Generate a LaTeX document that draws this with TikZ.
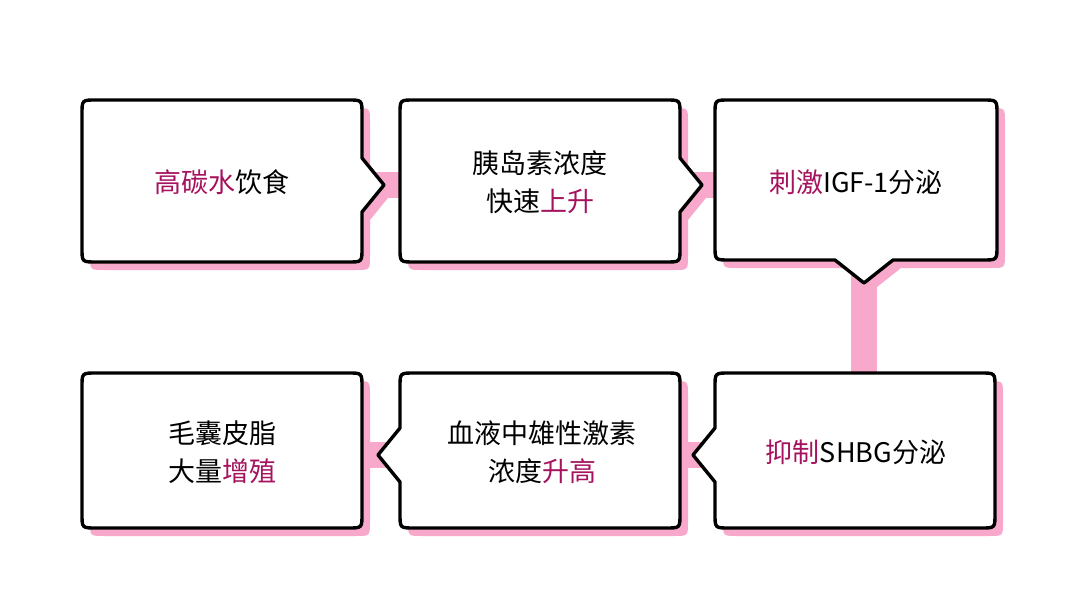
\documentclass[tikz,border=0pt]{standalone}
\usepackage{fontspec}
\setmainfont{Noto Sans CJK SC}
\definecolor{pk}{HTML}{F8A9CB}
\definecolor{mg}{HTML}{A5135E}
\newcommand\hl[1]{\textcolor{mg}{#1}}
% corner helpers (r = 14)
\newcommand\tr[2]{-- (#1-14,#2) .. controls (#1,#2) .. (#1,#2+14)}
\newcommand\br[2]{-- (#1,#2-14) .. controls (#1,#2) .. (#1-14,#2)}
\newcommand\bl[2]{-- (#1+14,#2) .. controls (#1,#2) .. (#1,#2-14)}
\newcommand\tl[2]{-- (#1,#2+14) .. controls (#1,#2) .. (#1+14,#2)}
\newcommand\bxR[5]{(#1+30,#2) \tr{#3}{#2} -- (#3,#5-27) -- (#3+22,#5) -- (#3,#5+27) \br{#3}{#4} \bl{#1}{#4} \tl{#1}{#2} -- cycle}
\newcommand\bxL[5]{(#1+30,#2) \tr{#3}{#2} \br{#3}{#4} \bl{#1}{#4} -- (#1,#5+27) -- (#1-22,#5) -- (#1,#5-27) \tl{#1}{#2} -- cycle}
\newcommand\bxB[5]{(#1+30,#2) \tr{#3}{#2} \br{#3}{#4} -- (#5+29,#4) -- (#5,#4+23) -- (#5-29,#4) \bl{#1}{#4} \tl{#1}{#2} -- cycle}
\newcommand\bxN[4]{(#1+30,#2) \tr{#3}{#2} \br{#3}{#4} \bl{#1}{#4} \tl{#1}{#2} -- cycle}
\tikzset{
  shadow/.style={fill=pk,shift={(8,8)}},
  outline/.style={draw=black,line width=3.4,fill=white,line join=round},
  bar/.style={draw=pk,line width=26},
  lbl/.style={font=\fontsize{27}{38}\selectfont,align=center,inner sep=0},
}
\begin{document}
\begin{tikzpicture}[x=1pt,y=-1pt]
\useasboundingbox (0,0) rectangle (1080,607);
\fill[white] (0,0) rectangle (1080,607);
\coordinate (ca) at (362,185); \coordinate (cb) at (400,185);
\coordinate (cc) at (680,185); \coordinate (cd) at (715,185);
\coordinate (ce) at (864,262); \coordinate (cf) at (864,373);
\coordinate (cg) at (715,455); \coordinate (ch) at (680,455);
\coordinate (ci) at (400,455); \coordinate (cj) at (362,455);
\draw[bar] (ca) -- (cb); \draw[bar] (cc) -- (cd);
\draw[bar] (ce) -- (cf); \draw[bar] (cg) -- (ch); \draw[bar] (ci) -- (cj);
% shadows
\fill[shadow] \bxR{82}{100}{362}{262}{185};
\fill[shadow] \bxR{400}{100}{680}{262}{185};
\fill[shadow] \bxB{715}{100}{997}{260}{864};
\fill[shadow] \bxL{715}{373}{995}{528}{455};
\fill[shadow] \bxL{400}{373}{680}{528}{455};
\fill[shadow] \bxN{82}{373}{362}{528};
% boxes
\draw[outline] \bxR{82}{100}{362}{262}{185};
\draw[outline] \bxR{400}{100}{680}{262}{185};
\draw[outline] \bxB{715}{100}{997}{260}{864};
\draw[outline] \bxL{715}{373}{995}{528}{455};
\draw[outline] \bxL{400}{373}{680}{528}{455};
\draw[outline] \bxN{82}{373}{362}{528};
% labels
\node[lbl] (a) at (222,182) {\hl{高碳水}饮食};
\node[lbl] (b) at (540,182) {胰岛素浓度\\快速\hl{上升}};
\node[lbl] (c) at (856,182) {\hl{刺激}IGF-1分泌};
\node[lbl] (d) at (856,452) {\hl{抑制}SHBG分泌};
\node[lbl] (e) at (542,452) {血液中雄性激素\\浓度\hl{升高}};
\node[lbl] (f) at (222,452) {毛囊皮脂\\大量\hl{增殖}};
\end{tikzpicture}
\end{document}
